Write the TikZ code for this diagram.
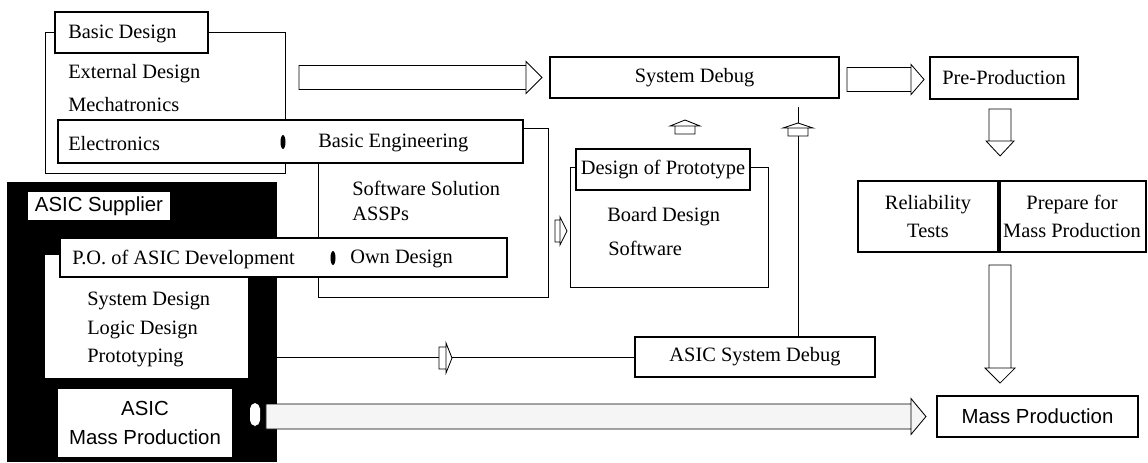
\documentclass[tikz,border=0pt]{standalone}
\usepackage{fontspec}
\setmainfont{Liberation Serif}
\setsansfont{Liberation Sans}
\usepackage{tikz}
\usetikzlibrary{arrows,backgrounds,calc,patterns,positioning,fit}

\newcommand{\fs}{\fontsize{14.5}{20}\selectfont}
% tail, angle, body length, body half width, head length, head half width
\newcommand{\blkarrow}[7][]{%
  \draw[blockarr,#1,shift={#2},rotate=#3] (0,-#5) rectangle (#4,#5)
    (#4,-#7) -- ({#4+#6},0) -- (#4,#7) -- cycle;}

\begin{document}
\begin{tikzpicture}[x=0.025cm,y=-0.025cm,
  every node/.style={font=\fs},
  box/.style={draw,line width=1.5pt,fill=white,inner sep=0pt},
  plain/.style={inner sep=0pt,anchor=west,yshift=-1pt},
  frame/.style={line width=0.6pt},
  blockarr/.style={line width=0.6pt,fill=white}]
\useasboundingbox (0,0) rectangle (1148,462);
\pgfmathsetmacro{\bw}{12}

\draw[frame] (45,32) rectangle (285,173);
\draw[frame] (318,128) rectangle (548,297);
\draw[frame] (570,167) rectangle (768,287);

\node[box,fit={(55,12)(208,53)}] (basic) {};
\node[plain] (basictxt) at (68,33) {Basic Design};
\node[plain] (extdes) at (68,72) {External Design};
\node[plain] (mecha) at (68,103) {Mechatronics};
\node[box,fit={(58,120)(523,163)}] (elecbar) {};
\node[plain] (elec) at (68,142) {Electronics};
\node[plain] (basiceng) at (318,142) {Basic Engineering};
\fill (283,142) ellipse (2.5 and 7);
\node[plain] (swsol) at (352,187) {Software Solution};
\node[plain] (assp) at (352,212) {ASSPs};

% ASIC supplier
\fill (7,182) rectangle (277,462);
\node[fill=white,inner sep=0pt,fit={(28,192)(170,220)},
  label={[font=\fs\sffamily]center:ASIC Supplier}] (supplier) {};
\fill[white] (45,255) rectangle (248,378);
\node[box,line width=1.2pt,fit={(60,238)(507,277)}] (pobar) {};
\node[plain] (po) at (72,258) {P.O. of ASIC Development};
\node[plain] (own) at (350,258) {Own Design};
\fill (333,258) ellipse (2.5 and 7);
\node[plain] (sysdes) at (87,300) {System Design};
\node[plain] (logic) at (87,329) {Logic Design};
\node[plain] (proto) at (87,357) {Prototyping};
\node[fill=white,inner sep=0pt,fit={(58,389)(232,457)},
  label={[font=\fs\sffamily,align=center]center:{ASIC\\Mass Production}}] (asicmp) {};
\fill[white,rounded corners=4] (250,403) rectangle (260,426);

\node[box,fit={(550,57)(839,98)},label=center:System Debug] (sysdbg) {};
\node[box,fit={(930,57)(1078,99)},label=center:Pre-Production] (preprod) {};
\node[box,fit={(576,149)(750,190)},label=center:Design of Prototype] (dproto) {};
\node[plain] (board) at (607,215) {Board Design};
\node[plain] (soft) at (608,247) {Software};
\node[box,fit={(858,181)(998,252)},
  label={[align=center]center:{Reliability\\Tests}}] (reltest) {};
\node[box,fit={(998,181)(1146,252)},
  label={[align=center]center:{Prepare for\\Mass Production}}] (prepmp) {};
\draw[line width=3pt] (reltest.north east) -- (reltest.south east);
\node[box,fit={(635,337)(875,377)},label=center:ASIC System Debug] (asicdbg) {};
\node[box,fit={(937,396)(1138,437)},
  label={[font=\fs\sffamily]center:Mass Production}] (massprod) {};

\coordinate (tapout) at (277,357);
\draw[frame] (tapout) -- (asicdbg.west);
\coordinate (dbgup) at (798,107);
\draw[frame] (dbgup) -- (dbgup |- asicdbg.north);

\blkarrow{($(sysdbg.west)+(-250,0)$)}{0}{227}{\bw}{16}{16}
\blkarrow{($(sysdbg.east)+(7,2)$)}{0}{64}{\bw}{13}{15}
\blkarrow{($(reltest.north east)+(1,-71)$)}{-90}{32}{11}{15}{14}
\blkarrow{($(reltest.south east)+(1,12)$)}{-90}{103}{11}{15}{15}
\blkarrow[fill=black!4]{($(massprod.west)+(-670,0)$)}{0}{645}{12.5}{15}{18}
\blkarrow{(555,231)}{0}{5}{11}{7}{14}
\blkarrow{(685,134)}{90}{8}{10}{6}{15}
\blkarrow{(798,136)}{90}{8}{10}{5}{15}
\blkarrow{(439,358)}{0}{7}{11}{6}{15}
\end{tikzpicture}
\end{document}
